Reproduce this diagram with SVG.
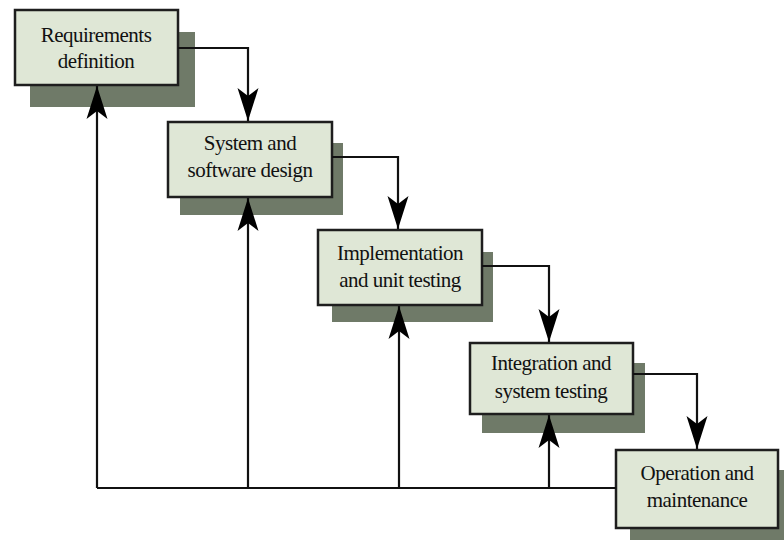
<svg xmlns="http://www.w3.org/2000/svg" width="784" height="540" viewBox="0 0 784 540">
  <defs>
    <style>
      .shadow { fill: #6f7a68; }
      .box { fill: #dfe7d6; stroke: #1e1e1e; stroke-width: 2.5; }
      .label { font-family: "Liberation Serif", "Times New Roman", serif; font-size: 21px; fill: #111; text-anchor: middle; letter-spacing: -0.5px; }
      .conn { fill: none; stroke: #111; stroke-width: 2.2; }
    </style>
    <marker id="arrow" viewBox="0 0 34 22" refX="33" refY="11" markerWidth="34" markerHeight="22" markerUnits="userSpaceOnUse" orient="auto">
      <path d="M33,11 L0,0.5 L8,11 L0,21.5 Z" fill="#000"/>
    </marker>
  </defs>
  <rect width="784" height="540" fill="#ffffff"/>

  <g id="node-requirements">
    <rect class="shadow" x="30" y="32" width="165" height="75"/>
    <rect class="box" x="15" y="10" width="163" height="75"/>
    <text class="label" x="96" y="42">Requirements</text>
    <text class="label" x="96" y="68">definition</text>
  </g>

  <g id="node-design">
    <rect class="shadow" x="180" y="143" width="163" height="72"/>
    <rect class="box" x="168" y="122" width="164" height="75"/>
    <text class="label" x="250" y="150">System and</text>
    <text class="label" x="250" y="177">software design</text>
  </g>

  <g id="node-implementation">
    <rect class="shadow" x="332" y="252" width="161" height="70"/>
    <rect class="box" x="318" y="230" width="164" height="75"/>
    <text class="label" x="400" y="260">Implementation</text>
    <text class="label" x="400" y="287">and unit testing</text>
  </g>

  <g id="node-integration">
    <rect class="shadow" x="482" y="363" width="163" height="70"/>
    <rect class="box" x="470" y="343" width="163" height="71"/>
    <text class="label" x="551" y="370">Integration and</text>
    <text class="label" x="551" y="398">system testing</text>
  </g>

  <g id="node-operation">
    <rect class="shadow" x="630" y="470" width="160" height="80"/>
    <rect class="box" x="616" y="450" width="162" height="78"/>
    <text class="label" x="697" y="480">Operation and</text>
    <text class="label" x="697" y="507">maintenance</text>
  </g>

  <g id="connectors">
    <path class="conn" d="M178,48 H248 V121" marker-end="url(#arrow)"/>
    <path class="conn" d="M332,157 H398 V229" marker-end="url(#arrow)"/>
    <path class="conn" d="M482,266 H549 V342" marker-end="url(#arrow)"/>
    <path class="conn" d="M633,374 H697 V449" marker-end="url(#arrow)"/>
    <path class="conn" d="M616,488 H97"/>
    <path class="conn" d="M97,488 V86" marker-end="url(#arrow)"/>
    <path class="conn" d="M248,488 V198" marker-end="url(#arrow)"/>
    <path class="conn" d="M399,488 V306" marker-end="url(#arrow)"/>
    <path class="conn" d="M549,488 V415" marker-end="url(#arrow)"/>
  </g>
</svg>
